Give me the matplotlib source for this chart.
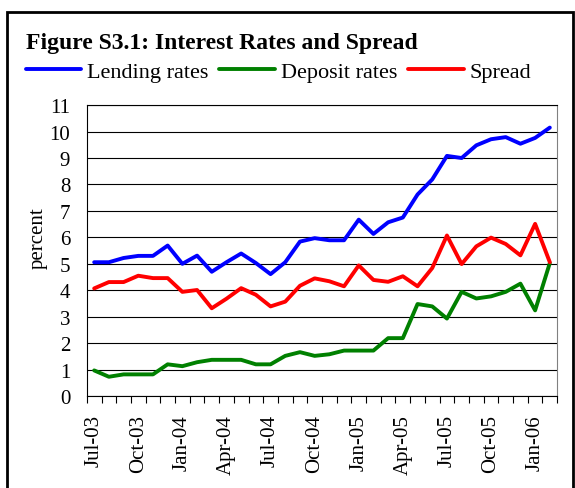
import numpy as np
import matplotlib.pyplot as plt
from matplotlib.patches import Rectangle

# monthly data Jul-03 .. Feb-06
months = ['Jul-03', 'Aug-03', 'Sep-03', 'Oct-03', 'Nov-03', 'Dec-03',
          'Jan-04', 'Feb-04', 'Mar-04', 'Apr-04', 'May-04', 'Jun-04',
          'Jul-04', 'Aug-04', 'Sep-04', 'Oct-04', 'Nov-04', 'Dec-04',
          'Jan-05', 'Feb-05', 'Mar-05', 'Apr-05', 'May-05', 'Jun-05',
          'Jul-05', 'Aug-05', 'Sep-05', 'Oct-05', 'Nov-05', 'Dec-05',
          'Jan-06', 'Feb-06']
lending = [5.06, 5.06, 5.22, 5.30, 5.30, 5.69, 5.00, 5.31, 4.70, 5.06, 5.39, 5.03,
           4.61, 5.06, 5.84, 5.97, 5.89, 5.89, 6.67, 6.13, 6.57, 6.75, 7.62, 8.19,
           9.08, 9.00, 9.48, 9.71, 9.79, 9.54, 9.76, 10.15]
deposit = [0.97, 0.73, 0.82, 0.82, 0.82, 1.20, 1.13, 1.28, 1.37, 1.37, 1.37, 1.20,
           1.20, 1.52, 1.66, 1.52, 1.58, 1.72, 1.72, 1.72, 2.19, 2.19, 3.48, 3.39,
           2.93, 3.94, 3.69, 3.77, 3.94, 4.25, 3.24, 5.03]
spread = [4.07, 4.31, 4.31, 4.55, 4.46, 4.46, 3.94, 4.01, 3.32, 3.68, 4.08, 3.83,
          3.39, 3.57, 4.17, 4.45, 4.34, 4.15, 4.94, 4.39, 4.32, 4.53, 4.15, 4.84,
          6.07, 4.99, 5.66, 5.99, 5.75, 5.32, 6.51, 5.06]

plt.rcParams['font.family'] = ['Liberation Serif', 'DejaVu Serif']

fig = plt.figure(figsize=(5.75, 4.89), dpi=100)
ax = fig.add_axes([0.151, 0.188, 0.818, 0.595])

x = np.arange(len(months))
l1, = ax.plot(x, lending, color='#0000FF', lw=2.8, solid_capstyle='round')
l2, = ax.plot(x, deposit, color='#008000', lw=2.8, solid_capstyle='round')
l3, = ax.plot(x, spread, color='#FF0000', lw=2.8, solid_capstyle='round')

ax.set_xlim(-0.5, len(months) - 0.5)
ax.set_ylim(0, 11)
ax.set_yticks(range(0, 12))
ax.yaxis.grid(True, color='black', lw=0.8)
ax.set_axisbelow(True)
ax.tick_params(axis='y', length=0, labelsize=15, pad=12)

# category boundaries get the tick marks, labels every third month
ax.set_xticks(np.arange(-0.5, len(months)), minor=False)
ax.set_xticklabels([])
ax.set_xticks(x[::3], minor=True)
ax.set_xticklabels(months[::3], minor=True, rotation=90, fontsize=15)
ax.tick_params(axis='x', which='major', length=5, direction='out', color='black')
ax.tick_params(axis='x', which='minor', length=0, pad=13)

for s in ['left', 'top', 'bottom']:
    ax.spines[s].set_color('black')
ax.spines['right'].set_color('#808080')
ax.set_ylabel('percent', fontsize=15)
ax.yaxis.set_label_coords(-0.083, 0.546)

fig.text(0.045, 0.912, 'Figure S3.1: Interest Rates and Spread',
         fontsize=17, fontweight='bold', ha='left', va='center')
fig.legend([l1, l2, l3], ['Lending rates', 'Deposit rates', 'Spread'],
           loc='center left', bbox_to_anchor=(0.045, 0.851), ncol=3,
           frameon=False, fontsize=16, handlelength=2.5, handletextpad=0.25,
           columnspacing=0.5, borderpad=0, borderaxespad=0)

fig.patches.append(Rectangle((0.012, -0.1), 0.985, 1.073, transform=fig.transFigure,
                             fill=False, edgecolor='black', lw=2))

fig.savefig('out.png', dpi=100)
